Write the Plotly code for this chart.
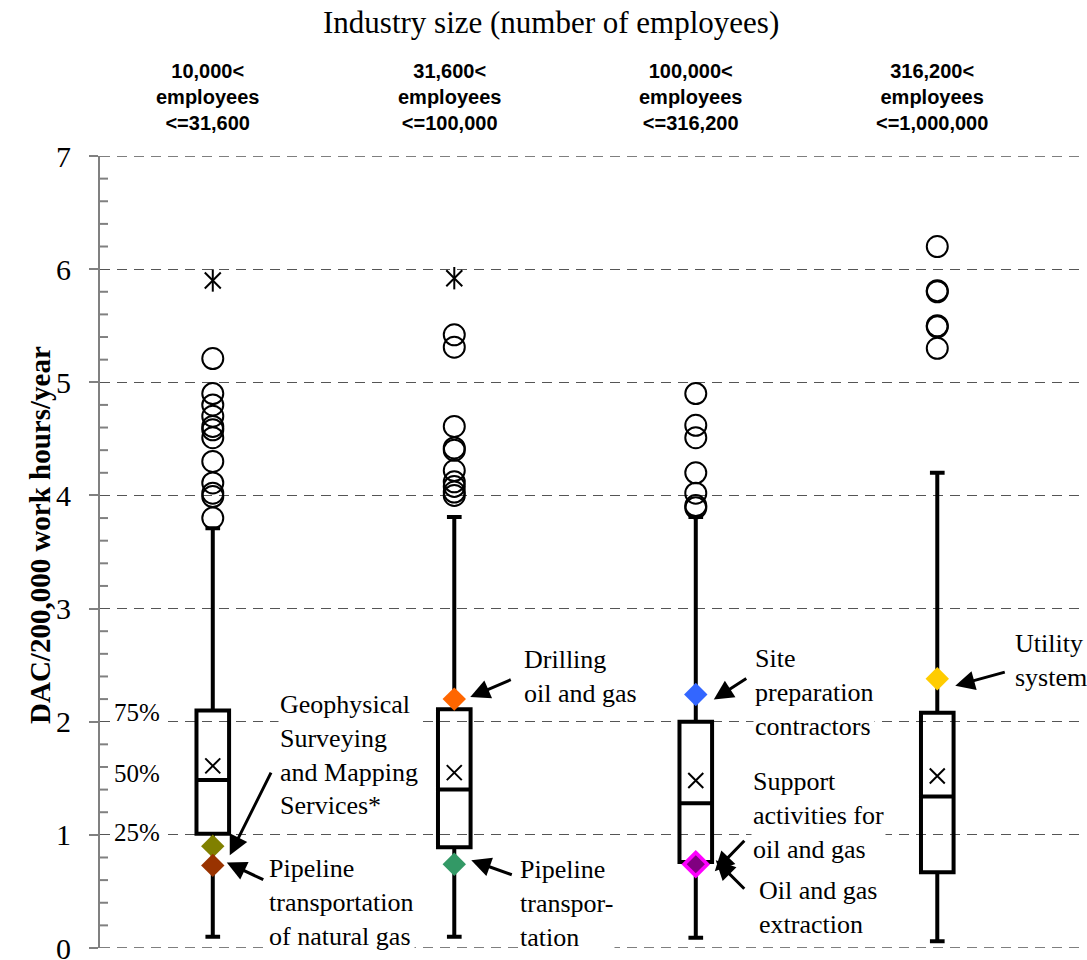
import plotly.graph_objects as go

# ---------------- data ----------------
categories = ["10,000&lt;<br>employees<br>&lt;=31,600",
              "31,600&lt;<br>employees<br>&lt;=100,000",
              "100,000&lt;<br>employees<br>&lt;=316,200",
              "316,200&lt;<br>employees<br>&lt;=1,000,000"]
cat_pos = [0, 1, 2, 3]
q1 = [1.01, 0.89, 0.76, 0.67]
median = [1.485, 1.40, 1.28, 1.34]
q3 = [2.10, 2.11, 2.00, 2.08]
lower_whisker = [0.10, 0.10, 0.09, 0.06]
upper_whisker = [3.71, 3.81, 3.81, 4.20]
means = [1.61, 1.55, 1.48, 1.52]

max_cat = [0, 1]
max_val = [5.90, 5.92]

outliers = {
    0: [5.21, 4.90, 4.80, 4.70, 4.61, 4.58, 4.51, 4.30, 4.11, 4.02, 3.99, 3.80],
    1: [5.42, 5.31, 4.61, 4.42, 4.40, 4.22, 4.12, 4.08, 4.03, 4.00],
    2: [4.90, 4.62, 4.51, 4.20, 4.02, 3.91, 3.89],
    3: [6.20, 5.81, 5.80, 5.50, 5.49, 5.30],
}

industries = ["Geophysical<br>Surveying<br>and Mapping<br>Services*",
              "Pipeline<br>transportation<br>of natural gas",
              "Drilling<br>oil and gas",
              "Pipeline<br>transpor-<br>tation",
              "Site<br>preparation<br>contractors",
              "Oil and gas<br>extraction",
              "Support<br>activities for<br>oil and gas",
              "Utility<br>system"]
industry_cat = [0, 0, 1, 1, 2, 2, 2, 3]
industry_val = [0.90, 0.73, 2.20, 0.74, 2.24, 0.74, 0.74, 2.38]
industry_color = ["#808000", "#993300", "#FF6600", "#339966",
                  "#3366FF", "#FF00FF", "#800080", "#FFCC00"]

y_ticks = [0, 1, 2, 3, 4, 5, 6, 7]
minor_ticks = [round(0.2 * i, 1) for i in range(36) if i % 5 != 0]
quartile_labels = ["75%", "50%", "25%"]

# ---------------- geometry ----------------
W, H = 1087, 960
ML, MR, MT, MB = 100, 2, 156, 12
PW = W - ML - MR
PH = H - MT - MB
XR = [-0.467, -0.467 + PW / 241.5]
YR = [0, 7]


def px_x(px):
    return XR[0] + (px - ML) / PW * (XR[1] - XR[0])


def px_y(py):
    return YR[0] + (H - MB - py) / PH * (YR[1] - YR[0])


def paper_x(px):
    return (px - ML) / PW


def paper_y(py):
    return (H - MB - py) / PH


serif = "Liberation Serif"
grid_dash = "10px,7px"
grid_color = "#555555"
axis_gray = "#808080"

fig = go.Figure()

fig.add_trace(go.Box(
    x=cat_pos, q1=q1, median=median, q3=q3,
    lowerfence=lower_whisker, upperfence=upper_whisker,
    boxpoints=False, width=0.135, whiskerwidth=0.45,
    line=dict(color="black", width=4),
    fillcolor="rgba(255,255,255,0)", showlegend=False, hoverinfo="skip"))

ox, oy = [], []
for c in cat_pos:
    for v in outliers[c]:
        ox.append(c)
        oy.append(v)
fig.add_trace(go.Scatter(x=ox, y=oy, mode="markers", showlegend=False, cliponaxis=False,
                         marker=dict(symbol="circle-open", size=21, color="black",
                                     line=dict(width=2, color="black"))))

fig.add_trace(go.Scatter(x=cat_pos, y=means, mode="markers", showlegend=False,
                         marker=dict(symbol="x-thin-open", size=15, color="black",
                                     line=dict(width=2, color="black"))))

for sym in ["x-thin-open", "line-ns-open"]:
    fig.add_trace(go.Scatter(x=max_cat, y=max_val, mode="markers", showlegend=False,
                             marker=dict(symbol=sym, size=16, color="black",
                                         line=dict(width=2, color="black"))))

# diamonds
for i in range(len(industries)):
    size = 18
    if industry_color[i] == "#FF00FF":
        size = 22
    if industry_color[i] == "#800080":
        size = 14
    fig.add_trace(go.Scatter(x=[industry_cat[i]], y=[industry_val[i]], mode="markers",
                             showlegend=False,
                             marker=dict(symbol="diamond", size=size,
                                         color=industry_color[i], line=dict(width=0))))

annotations = []

# industry labels: (left px, center py)
label_pos = [(278, 755), (267, 902), (522, 676), (518, 903),
             (753, 692), (757, 907), (751, 815), (1013, 660)]
# arrow: (xshift, yshift, ax, ay) relative to diamond
arrow_geo = [(17, 9, 42, -84), (14, -3, 38, 18), (16, -2, 42, -18), (17, -4, 42, 15),
             (18, 5, 34, -22), (20, -4, 30, 30), (19, 7, 31, -32), (18, 7, 51, -14)]

for i, txt in enumerate(industries):
    lx, ly = label_pos[i]
    annotations.append(dict(x=px_x(lx), y=px_y(ly), xref="x", yref="y", text=txt,
                            showarrow=False, xanchor="left", yanchor="middle", align="left",
                            bgcolor="white",
                            font=dict(family=serif, size=26, color="black")))
for i in range(len(industries)):
    xs, ys, ax, ay = arrow_geo[i]
    annotations.append(dict(x=industry_cat[i], y=industry_val[i], xref="x", yref="y",
                            text="", showarrow=True, arrowhead=2, arrowsize=1.3,
                            arrowwidth=3, arrowcolor="black", ax=ax, ay=ay,
                            xshift=xs, yshift=-ys))

# category labels (above plot, paper coords)
for c, txt in zip(cat_pos, categories):
    cx = ML + (c - XR[0]) / (XR[1] - XR[0]) * PW
    annotations.append(dict(x=paper_x(cx - 5), y=paper_y(97), xref="paper", yref="paper",
                            text="<b>" + txt + "</b>",
                            showarrow=False, xanchor="center", yanchor="middle",
                            font=dict(family="Liberation Sans", size=20, color="black")))

# quartile labels
for txt, py in zip(quartile_labels, [712, 773, 832]):
    annotations.append(dict(x=px_x(112), y=px_y(py), xref="x", yref="y", text=txt,
                            showarrow=False, xanchor="left", yanchor="middle",
                            bgcolor="white",
                            font=dict(family=serif, size=25, color="black")))

# titles
annotations.append(dict(x=paper_x(551), y=paper_y(23), xref="paper", yref="paper",
                        text="Industry size (number of employees)", showarrow=False,
                        xanchor="center", yanchor="middle",
                        font=dict(family=serif, size=31, color="black")))
annotations.append(dict(x=paper_x(40), y=paper_y(535), xref="paper", yref="paper",
                        text="<b>DAC/200,000 work hours/year</b>", showarrow=False,
                        textangle=-90, xanchor="center", yanchor="middle",
                        font=dict(family=serif, size=29, color="black")))

shapes = []
# gridlines at the range edges (plotly omits them)
for yv in [YR[0], YR[1]]:
    shapes.append(dict(type="line", xref="paper", yref="y", x0=0, x1=1, y0=yv, y1=yv,
                       layer="below",
                       line=dict(color=grid_color, width=1.3, dash=grid_dash)))
# minor ticks drawn inside (to the right of the axis line)
for yv in minor_ticks:
    shapes.append(dict(type="line", xref="paper", yref="y", x0=0, x1=8 / PW, y0=yv, y1=yv,
                       line=dict(color=axis_gray, width=2)))

fig.update_layout(
    width=W, height=H, margin=dict(l=ML, r=MR, t=MT, b=MB, autoexpand=False),
    paper_bgcolor="white", plot_bgcolor="white",
    xaxis=dict(range=XR, visible=False, showgrid=False, zeroline=False, automargin=False),
    yaxis=dict(range=YR, tickvals=y_ticks, ticks="outside", ticklen=9, tickwidth=2,
               tickcolor=axis_gray, showline=True, linecolor=axis_gray, linewidth=2,
               showgrid=True, gridcolor=grid_color, gridwidth=1.3, griddash=grid_dash,
               zeroline=False, ticklabelstandoff=12, ticklabeloverflow="allow",
               automargin=False,
               tickfont=dict(family=serif, size=30, color="black")),
    annotations=annotations,
    shapes=shapes,
    showlegend=False,
)

fig.write_html("out.html")
